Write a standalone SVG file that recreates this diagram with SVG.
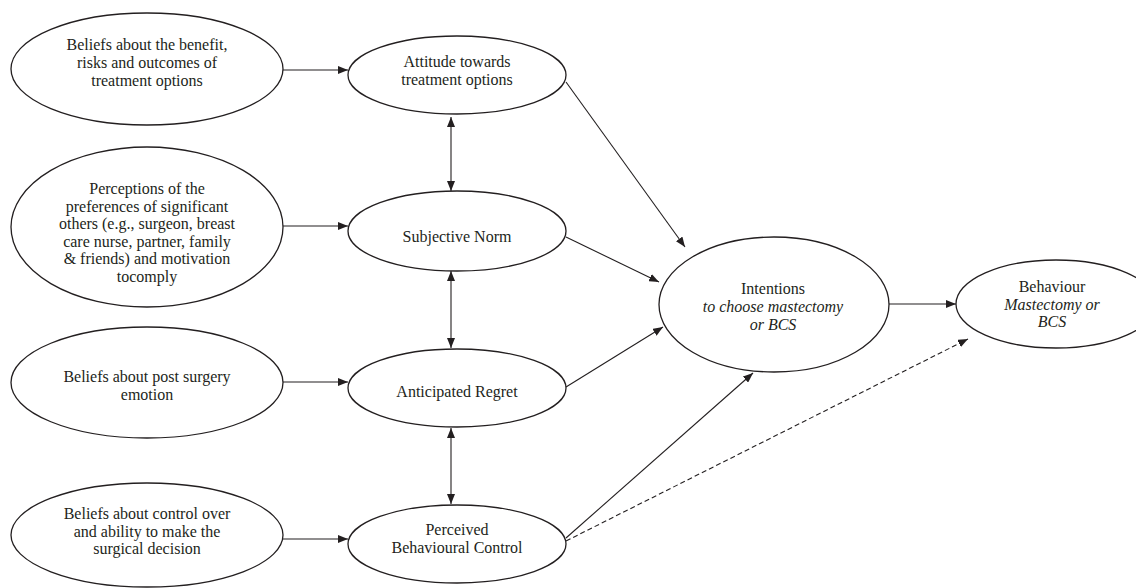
<svg xmlns="http://www.w3.org/2000/svg" width="1136" height="588" viewBox="0 0 1136 588">
<defs>
<style>
.node ellipse{fill:#fff;stroke:#231f20;stroke-width:1.3}
text{font-family:"Liberation Serif","Times New Roman",serif;font-size:16px;fill:#231f20;text-anchor:middle}
.it{font-style:italic}
.edge{stroke:#231f20;stroke-width:1.1;fill:none}
.dash{stroke-dasharray:5,3}
</style>
<marker id="ah" viewBox="0 0 10 8" refX="10" refY="4" markerWidth="10" markerHeight="8" markerUnits="userSpaceOnUse" orient="auto-start-reverse">
<path d="M0,0 L10,4 L0,8 z" fill="#231f20"/>
</marker>
</defs>
<rect width="1136" height="588" fill="#fff"/>
<g id="connectors">
<line class="edge" x1="283" y1="70" x2="348" y2="70" marker-end="url(#ah)"/>
<line class="edge" x1="283" y1="226" x2="348" y2="226" marker-end="url(#ah)"/>
<line class="edge" x1="283" y1="382" x2="348" y2="382" marker-end="url(#ah)"/>
<line class="edge" x1="283" y1="539" x2="348" y2="539" marker-end="url(#ah)"/>
<line class="edge" x1="451" y1="117" x2="451" y2="191" marker-start="url(#ah)" marker-end="url(#ah)"/>
<line class="edge" x1="451" y1="271" x2="451" y2="348" marker-start="url(#ah)" marker-end="url(#ah)"/>
<line class="edge" x1="451" y1="428" x2="451" y2="504" marker-start="url(#ah)" marker-end="url(#ah)"/>
<line class="edge" x1="566" y1="82" x2="685" y2="247" marker-end="url(#ah)"/>
<line class="edge" x1="566" y1="237" x2="659" y2="282" marker-end="url(#ah)"/>
<line class="edge" x1="566" y1="387" x2="663" y2="327" marker-end="url(#ah)"/>
<line class="edge" x1="566" y1="538" x2="753" y2="373" marker-end="url(#ah)"/>
<line class="edge dash" x1="566" y1="541" x2="968" y2="339" marker-end="url(#ah)"/>
<line class="edge" x1="889" y1="304" x2="956" y2="304" marker-end="url(#ah)"/>
</g>
<g id="n-beliefs-benefit" class="node">
<ellipse cx="147" cy="69" rx="136" ry="56"/>
<text x="147" y="50">Beliefs about the benefit,</text>
<text x="147" y="68">risks and outcomes of</text>
<text x="147" y="86">treatment options</text>
</g>
<g id="n-perceptions" class="node">
<ellipse cx="147" cy="227" rx="136" ry="80"/>
<text x="147" y="194">Perceptions of the</text>
<text x="147" y="211.6">preferences of significant</text>
<text x="147" y="229.2">others (e.g., surgeon, breast</text>
<text x="147" y="246.8">care nurse, partner, family</text>
<text x="147" y="264.4">&amp; friends) and motivation</text>
<text x="147" y="282">tocomply</text>
</g>
<g id="n-beliefs-emotion" class="node">
<ellipse cx="147" cy="382.5" rx="136" ry="55.5"/>
<text x="147" y="382">Beliefs about post surgery</text>
<text x="147" y="399.5">emotion</text>
</g>
<g id="n-beliefs-control" class="node">
<ellipse cx="147" cy="535" rx="136" ry="52"/>
<text x="147" y="519">Beliefs about control over</text>
<text x="147" y="536.5">and ability to make the</text>
<text x="147" y="554">surgical decision</text>
</g>
<g id="n-attitude" class="node">
<ellipse cx="457" cy="75" rx="109" ry="39"/>
<text x="457" y="67">Attitude towards</text>
<text x="457" y="85">treatment options</text>
</g>
<g id="n-subjective-norm" class="node">
<ellipse cx="457" cy="231" rx="109" ry="40"/>
<text x="457" y="242">Subjective Norm</text>
</g>
<g id="n-anticipated-regret" class="node">
<ellipse cx="457" cy="388" rx="109" ry="39"/>
<text x="457" y="397">Anticipated Regret</text>
</g>
<g id="n-pbc" class="node">
<ellipse cx="457" cy="544" rx="109" ry="39"/>
<text x="457" y="535">Perceived</text>
<text x="457" y="553">Behavioural Control</text>
</g>
<g id="n-intentions" class="node">
<ellipse cx="774" cy="304.5" rx="115" ry="67.5"/>
<text x="773" y="294">Intentions</text>
<text x="773" y="312" class="it">to choose mastectomy</text>
<text x="773" y="330" class="it">or BCS</text>
</g>
<g id="n-behaviour" class="node">
<ellipse cx="1056" cy="304" rx="100" ry="44"/>
<text x="1052" y="292">Behaviour</text>
<text x="1052" y="309.5" class="it">Mastectomy or</text>
<text x="1052" y="327" class="it">BCS</text>
</g>
</svg>
